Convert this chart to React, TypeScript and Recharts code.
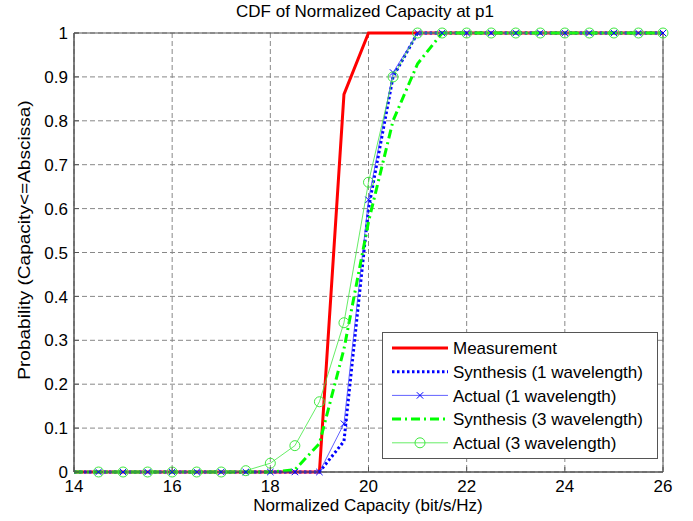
import React from 'react';
import { LineChart, Line, XAxis, YAxis, CartesianGrid, ReferenceArea } from 'recharts';

const capacity = [14, 14.5, 15, 15.5, 16, 16.5, 17, 17.5, 18, 18.5, 19, 19.5, 20, 20.5, 21, 21.5, 22, 22.5, 23, 23.5, 24, 24.5, 25, 25.5, 26];
const measurement = [0, 0, 0, 0, 0, 0, 0, 0, 0, 0, 0, 0.86, 1, 1, 1, 1, 1, 1, 1, 1, 1, 1, 1, 1, 1];
const synthesis1 = [0, 0, 0, 0, 0, 0, 0, 0, 0, 0, 0, 0.07, 0.6, 0.9, 1, 1, 1, 1, 1, 1, 1, 1, 1, 1, 1];
const actual1 = [null, 0, 0, 0, 0, 0, 0, 0, 0, 0, 0, 0.11, 0.62, 0.91, 1, 1, 1, 1, 1, 1, 1, 1, 1, 1, 1];
const synthesis3 = [0, 0, 0, 0, 0, 0, 0, 0, 0, 0.005, 0.065, 0.28, 0.57, 0.8, 0.93, 1, 1, 1, 1, 1, 1, 1, 1, 1, 1];
const actual3 = [null, 0, 0, 0, 0, 0, 0, 0.003, 0.02, 0.06, 0.16, 0.34, 0.66, 0.9, 1, 1, 1, 1, 1, 1, 1, 1, 1, 1, 1];

const xTicks = [14, 16, 18, 20, 22, 24, 26];
const yTicks = [0, 0.1, 0.2, 0.3, 0.4, 0.5, 0.6, 0.7, 0.8, 0.9, 1];

const seriesNames = [
  'Measurement',
  'Synthesis (1 wavelength)',
  'Actual (1 wavelength)',
  'Synthesis (3 wavelength)',
  'Actual (3 wavelength)',
];

const data = capacity.map((x, i) => ({
  x,
  m: measurement[i],
  s1: synthesis1[i],
  a1: actual1[i],
  s3: synthesis3[i],
  a3: actual3[i],
}));

const FONT = '"Liberation Sans", Arial, sans-serif';
const FS = 17;
const BLUE = '#0000ff';
const GREEN = '#00ff00';
const RED = '#ff0000';
const THIN_BLUE = '#3a3aff';
const THIN_GREEN = '#3fe83f';

const XMark = (p: any) => {
  if (p.cx == null || p.cy == null || p.value == null) return <g key={`xm${p.index}`} />;
  const s = 3.2;
  return (
    <g key={`xm${p.index}`}>
      <line x1={p.cx - s} y1={p.cy - s} x2={p.cx + s} y2={p.cy + s} stroke={BLUE} strokeWidth={1} />
      <line x1={p.cx - s} y1={p.cy + s} x2={p.cx + s} y2={p.cy - s} stroke={BLUE} strokeWidth={1} />
    </g>
  );
};

const OMark = (p: any) => {
  if (p.cx == null || p.cy == null || p.value == null) return <g key={`om${p.index}`} />;
  return <circle key={`om${p.index}`} cx={p.cx} cy={p.cy} r={5} fill="none" stroke={THIN_GREEN} strokeWidth={1} />;
};

const XTick = (p: any) => {
  const m = 8;
  return (
    <g>
      <line x1={p.x} y1={p.y - m} x2={p.x} y2={p.y - m - 5} stroke="#555" strokeWidth={1} />
      <text x={p.x} y={p.y} dy="0.72em" textAnchor="middle" fontSize={FS} fontFamily={FONT} fill="#000">
        {p.payload.value}
      </text>
    </g>
  );
};

const YTick = (p: any) => {
  const m = 6;
  return (
    <g>
      <line x1={p.x + m} y1={p.y} x2={p.x + m + 5} y2={p.y} stroke="#555" strokeWidth={1} />
      <text x={p.x} y={p.y} dy="0.36em" textAnchor="end" fontSize={FS} fontFamily={FONT} fill="#000">
        {String(p.payload.value)}
      </text>
    </g>
  );
};

const legendStyles = [
  { stroke: RED, width: 3, dash: undefined as string | undefined },
  { stroke: BLUE, width: 3, dash: '2.5 2.5' },
  { stroke: THIN_BLUE, width: 0.8, dash: undefined },
  { stroke: GREEN, width: 3, dash: '9 4 2 4' },
  { stroke: THIN_GREEN, width: 0.8, dash: undefined },
];

export default function App() {
  return (
    <div style={{ position: 'absolute', left: 0, top: 0, width: 693, height: 521, background: '#fff', fontFamily: FONT }}>
      <LineChart
        width={693}
        height={521}
        data={data}
        margin={{ top: 33, right: 30, left: 14, bottom: 19 }}
      >
        <CartesianGrid stroke="#888" strokeDasharray="5 3" strokeWidth={1} />
        <XAxis
          dataKey="x"
          type="number"
          domain={[14, 26]}
          ticks={xTicks}
          height={30}
          tickSize={0}
          tickMargin={8}
          axisLine={{ stroke: '#555' }}
          tick={<XTick />}
          interval={0}
        />
        <YAxis
          type="number"
          domain={[0, 1]}
          ticks={yTicks}
          width={60}
          tickSize={0}
          tickMargin={6}
          axisLine={{ stroke: '#555' }}
          tick={<YTick />}
          interval={0}
        />
        <ReferenceArea x1={14} x2={26} y1={0} y2={1} fill="none" fillOpacity={0} stroke="#555" strokeWidth={1} ifOverflow="visible" />
        <Line dataKey="m" stroke={RED} strokeWidth={3} dot={false} isAnimationActive={false} />
        <Line dataKey="s1" stroke={BLUE} strokeWidth={3} strokeDasharray="2.5 2.5" dot={false} isAnimationActive={false} />
        <Line dataKey="a1" stroke={THIN_BLUE} strokeWidth={0.8} dot={XMark} isAnimationActive={false} />
        <Line dataKey="s3" stroke={GREEN} strokeWidth={3} strokeDasharray="9 4 2 4" dot={false} isAnimationActive={false} />
        <Line dataKey="a3" stroke={THIN_GREEN} strokeWidth={0.8} dot={OMark} isAnimationActive={false} />
      </LineChart>

      <div style={{ position: 'absolute', left: 365, top: 11, transform: 'translate(-50%,-50%)', fontSize: FS, whiteSpace: 'nowrap', color: '#000', lineHeight: 1 }}>
        CDF of Normalized Capacity at p1
      </div>
      <div style={{ position: 'absolute', left: 368, top: 505, transform: 'translate(-50%,-50%)', fontSize: FS, whiteSpace: 'nowrap', color: '#000', lineHeight: 1 }}>
        Normalized Capacity (bit/s/Hz)
      </div>
      <div style={{ position: 'absolute', left: 24, top: 240, transform: 'translate(-50%,-50%) rotate(-90deg) scaleX(1.12)', fontSize: FS, whiteSpace: 'nowrap', color: '#000', lineHeight: 1 }}>
        Probability (Capacity&lt;=Abscissa)
      </div>

      <svg style={{ position: 'absolute', left: 382, top: 332 }} width={276} height={127}>
        <rect x={0.5} y={0.5} width={275} height={126} fill="#fff" stroke="#555" strokeWidth={1} />
        {seriesNames.map((name, i) => {
          const cy = 16 + i * 23.7;
          const st = legendStyles[i];
          return (
            <g key={name}>
              <line x1={10} y1={cy} x2={66} y2={cy} stroke={st.stroke} strokeWidth={st.width} strokeDasharray={st.dash} />
              {i === 2 && (
                <g>
                  <line x1={38 - 3.2} y1={cy - 3.2} x2={38 + 3.2} y2={cy + 3.2} stroke={BLUE} strokeWidth={1} />
                  <line x1={38 - 3.2} y1={cy + 3.2} x2={38 + 3.2} y2={cy - 3.2} stroke={BLUE} strokeWidth={1} />
                </g>
              )}
              {i === 4 && <circle cx={38} cy={cy} r={5} fill="none" stroke={THIN_GREEN} strokeWidth={1} />}
              <text x={71} y={cy} dy="0.36em" fontSize={FS} fontFamily={FONT} fill="#000">
                {name}
              </text>
            </g>
          );
        })}
      </svg>
    </div>
  );
}
